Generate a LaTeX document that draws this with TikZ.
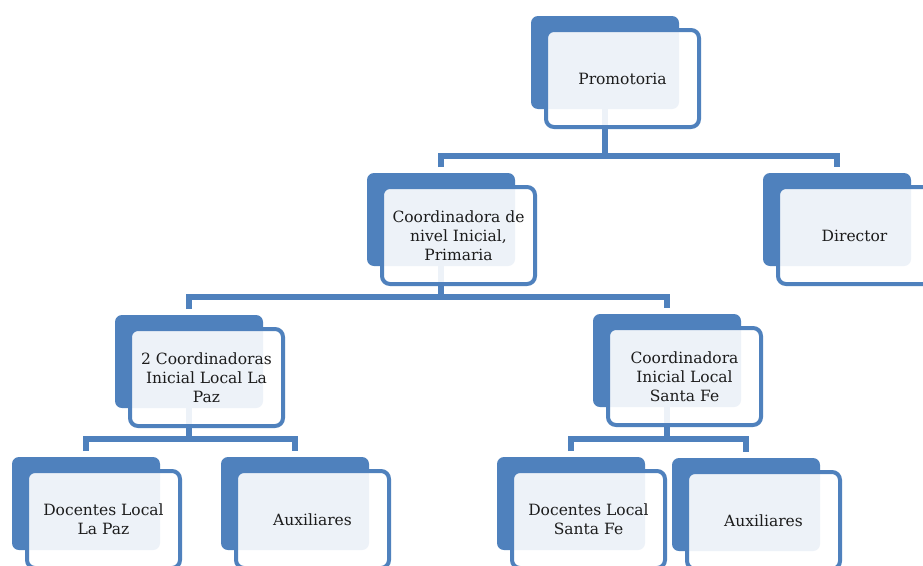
\documentclass[tikz,border=0pt]{standalone}
\usepackage{fontspec}
\setmainfont{DejaVu Serif}
\pgfdeclarelayer{bg}
\pgfsetlayers{bg,main}
\definecolor{accent}{HTML}{4F81BD}
\definecolor{ink}{HTML}{1C1C1C}

% one org-chart unit: a solid tab behind an outlined card
% #1 name, #2/#3 top-left corner of the tab, #4 label
\newcommand\orgunit[4]{%
  \node[backbox] (#1b) at (#2+74,#3+46.5) {};
  \node[frontbox] (#1) at (#2+91.5,#3+62.5) {#4};}

\begin{document}
\begin{tikzpicture}[x=1pt,y=-1pt,
  backbox/.style={fill=accent, rounded corners=7pt, minimum width=148pt,
    minimum height=93pt, inner sep=0pt, outer sep=0pt},
  frontbox/.style={draw=accent, line width=4pt, fill=white, fill opacity=0.9,
    text opacity=1, rounded corners=8pt, minimum width=153pt,
    minimum height=97pt, inner sep=0pt, outer sep=0pt, align=center,
    text=ink, font=\fontsize{15.5}{19}\selectfont},
  link/.style={draw=accent, line width=5.5pt},
]
\useasboundingbox (0,0) rectangle (923,565);
\clip (0,0) rectangle (923,565);

\orgunit{p}{531}{16}{Promotoria}
\orgunit{c}{367}{173}{Coordinadora de\\nivel Inicial,\\Primaria}
\orgunit{d}{763}{173}{Director}
\orgunit{k}{115}{315}{2 Coordinadoras\\Inicial Local La\\Paz}
\orgunit{s}{593}{314}{Coordinadora\\Inicial Local\\Santa Fe}
\orgunit{l}{12}{457}{Docentes Local\\La Paz}
\orgunit{a}{221}{457}{Auxiliares}
\orgunit{t}{497}{457}{Docentes Local\\Santa Fe}
\orgunit{r}{672}{458}{Auxiliares}

% bus heights of the connector rows
\coordinate (bus1) at (0,156);
\coordinate (bus2) at (0,297);
\coordinate (bus3) at (0,439);

\begin{pgfonlayer}{bg}
  \fill[white] (0,0) rectangle (923,565);

  \draw[link] (pb.south) -- (pb.south |- bus1);
  \draw[link] ([yshift=6pt]cb.north) -- (cb.north |- bus1)
    -- (db.north |- bus1) -- ([yshift=6pt]db.north);

  \draw[link] (cb.south) -- (cb.south |- bus2);
  \draw[link] ([yshift=6pt]kb.north) -- (kb.north |- bus2)
    -- (sb.north |- bus2) -- ([yshift=6pt]sb.north);

  \draw[link] (kb.south) -- (kb.south |- bus3);
  \draw[link] ([yshift=6pt]lb.north) -- (lb.north |- bus3)
    -- (ab.north |- bus3) -- ([yshift=6pt]ab.north);

  \draw[link] (sb.south) -- (sb.south |- bus3);
  \draw[link] ([yshift=6pt]tb.north) -- (tb.north |- bus3)
    -- (rb.north |- bus3) -- ([yshift=6pt]rb.north);
\end{pgfonlayer}
\end{tikzpicture}
\end{document}
